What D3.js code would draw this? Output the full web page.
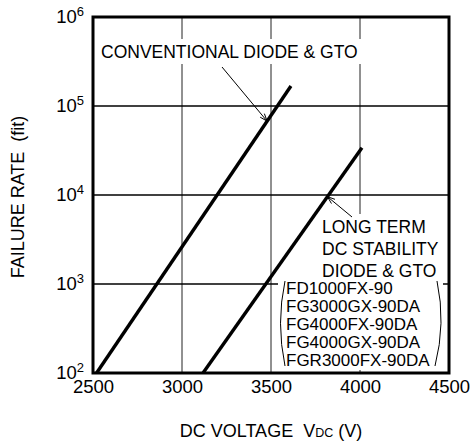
<!DOCTYPE html>
<html>
<head>
<meta charset="utf-8">
<script src="https://cdn.jsdelivr.net/npm/d3@7"></script>
<style>
body { margin: 0; background: #fff; }
text { font-family: "Liberation Sans", Arial, Helvetica, sans-serif; fill: #000; }
</style>
</head>
<body>
<script>
// chart values
const xTicks = [2500, 3000, 3500, 4000, 4500];
const yExponents = [2, 3, 4, 5, 6];
const xGrid = [3000, 3500, 4000];
const yGrid = [1e3, 1e4, 1e5];
const conventional = [{v: 2520, f: 100}, {v: 3612, f: 1.68e5}];
const longTerm = [{v: 3118, f: 100}, {v: 4011, f: 3.4e4}];
const conventionalLabel = "CONVENTIONAL DIODE & GTO";
const longTermLabel = ["LONG TERM", "DC STABILITY", "DIODE & GTO"];
const models = ["FD1000FX-90", "FG3000GX-90DA", "FG4000FX-90DA", "FG4000GX-90DA", "FGR3000FX-90DA"];

const W = 472, H = 443;
const plot = {left: 93, right: 449, top: 17, bottom: 373};

const svg = d3.select("body").append("svg")
    .attr("width", W)
    .attr("height", H);

const x = d3.scaleLinear().domain([2500, 4500]).range([plot.left, plot.right]);
const y = d3.scaleLog().domain([1e2, 1e6]).range([plot.bottom, plot.top]);

// value on a straight (log) line at voltage v
function onLine(series, v) {
    const a = series[0], b = series[1];
    const t = (v - a.v) / (b.v - a.v);
    return Math.pow(10, Math.log10(a.f) + t * (Math.log10(b.f) - Math.log10(a.f)));
}

//Gridlines
svg.append("g").selectAll("line")
    .data(xGrid)
    .enter().append("line")
    .attr("x1", d => x(d)).attr("x2", d => x(d))
    .attr("y1", plot.top).attr("y2", plot.bottom)
    .attr("stroke", "#222").attr("stroke-width", 1);

svg.append("g").selectAll("line")
    .data(yGrid)
    .enter().append("line")
    .attr("x1", plot.left).attr("x2", plot.right)
    .attr("y1", d => y(d)).attr("y2", d => y(d))
    .attr("stroke", "#000").attr("stroke-width", 1.4);

//Curves
const line = d3.line()
    .x(d => x(d.v))
    .y(d => y(d.f));

[conventional, longTerm].forEach(s => {
    svg.append("path")
        .datum(s)
        .attr("fill", "none")
        .attr("stroke", "#000")
        .attr("stroke-width", 3.4)
        .attr("d", line);
});

//Label boxes (white, hide gridlines)
svg.append("rect").attr("x", 98).attr("y", 39).attr("width", 264).attr("height", 25).attr("fill", "#fff");
svg.append("rect").attr("x", 318).attr("y", 214).attr("width", 116).attr("height", 66).attr("fill", "#fff");
svg.append("rect").attr("x", 278).attr("y", 279).attr("width", 165).attr("height", 91).attr("fill", "#fff");

svg.append("text")
    .attr("x", 101).attr("y", 58)
    .attr("font-size", 17.5)
    .text(conventionalLabel);

svg.append("g").selectAll("text")
    .data(longTermLabel)
    .enter().append("text")
    .attr("x", 322).attr("y", (d, i) => 233 + i * 22)
    .attr("font-size", 17.5)
    .text(d => d);

svg.append("g").selectAll("text")
    .data(models)
    .enter().append("text")
    .attr("x", 286).attr("y", (d, i) => 294 + i * 18)
    .attr("font-size", 17)
    .text(d => d);

// brackets round the model list
svg.append("path")
    .attr("d", "M285,281 Q276,323 285,366")
    .attr("fill", "none").attr("stroke", "#000").attr("stroke-width", 1);
svg.append("path")
    .attr("d", "M437,281 Q446,323 435,366")
    .attr("fill", "none").attr("stroke", "#000").attr("stroke-width", 1);

//Arrows
function arrow(x0, y0, x1, y1) {
    const g = svg.append("g").attr("stroke", "#000").attr("stroke-width", 1).attr("fill", "none");
    g.append("line").attr("x1", x0).attr("y1", y0).attr("x2", x1).attr("y2", y1);
    const ang = Math.atan2(y1 - y0, x1 - x0);
    const len = 8, spread = 0.35;
    [ang + Math.PI - spread, ang + Math.PI + spread].forEach(a => {
        g.append("line")
            .attr("x1", x1).attr("y1", y1)
            .attr("x2", x1 + len * Math.cos(a)).attr("y2", y1 + len * Math.sin(a));
    });
}
arrow(222, 67, x(3478), y(onLine(conventional, 3478)));
arrow(352, 217, x(3817), y(onLine(longTerm, 3817)));

//Frame
svg.append("rect")
    .attr("x", plot.left).attr("y", plot.top)
    .attr("width", plot.right - plot.left).attr("height", plot.bottom - plot.top)
    .attr("fill", "none").attr("stroke", "#000").attr("stroke-width", 3);

//Axes
const xAxis = d3.axisBottom(x).tickValues(xTicks).tickSize(0).tickPadding(7).tickFormat(d3.format("d"));
const xg = svg.append("g")
    .attr("transform", "translate(0," + plot.bottom + ")")
    .call(xAxis);
xg.select(".domain").remove();
xg.selectAll("text").attr("font-size", 18.5).attr("font-family", null);

const yAxis = d3.axisLeft(y).tickValues(yExponents.map(e => Math.pow(10, e))).tickSize(0).tickPadding(9).tickFormat("");
const yg = svg.append("g")
    .attr("transform", "translate(" + plot.left + ",0)")
    .call(yAxis);
yg.select(".domain").remove();
yg.selectAll(".tick text").each(function(d) {
    const t = d3.select(this).attr("font-size", 18.5).attr("font-family", null).attr("dy", "0.3em");
    t.append("tspan").text("10");
    t.append("tspan").attr("font-size", 13).attr("dy", -7).text(Math.round(Math.log10(d)));
});

//Axis titles
svg.append("text")
    .attr("transform", "translate(24," + 197 + ") rotate(-90)")
    .attr("text-anchor", "middle")
    .attr("font-size", 18)
    .style("white-space", "pre")
    .text("FAILURE RATE  (fit)");

const xt = svg.append("text")
    .attr("x", 271).attr("y", 437)
    .attr("text-anchor", "middle")
    .attr("font-size", 18)
    .style("white-space", "pre");
xt.append("tspan").text("DC VOLTAGE  V");
xt.append("tspan").attr("font-size", 12.5).text("DC");
xt.append("tspan").text(" (V)");
</script>
</body>
</html>
